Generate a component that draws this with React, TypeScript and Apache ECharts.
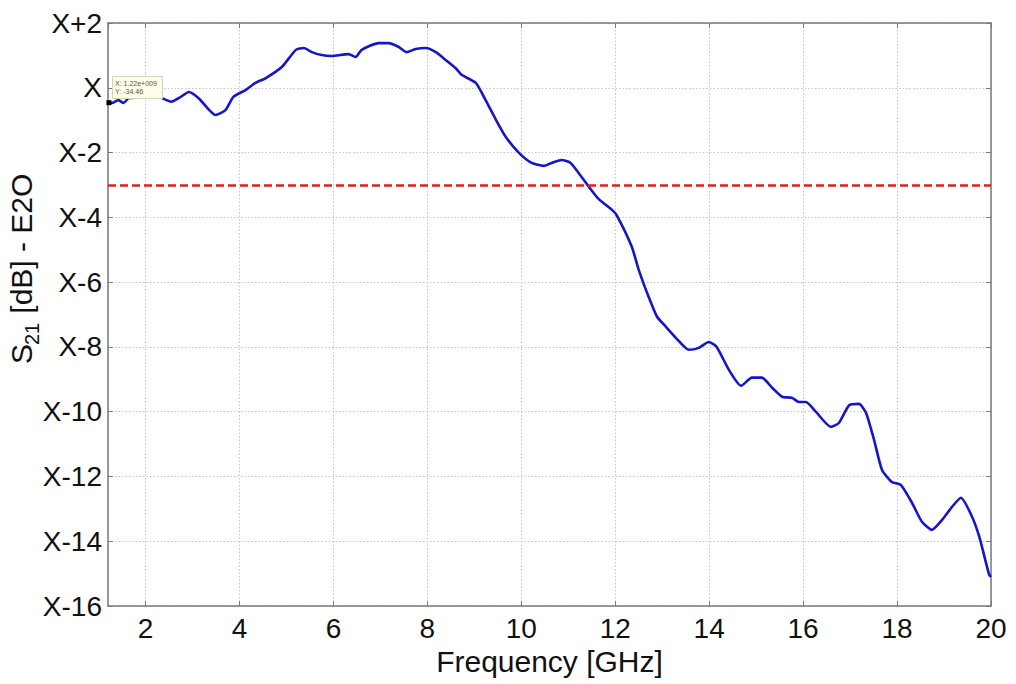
import React, { useEffect, useRef } from "react";
import * as echarts from "echarts";

// Frequency [GHz]
const freq: number[] = [
  1.22, 1.28, 1.42, 1.53, 1.64, 1.85, 2.06, 2.28, 2.55, 2.75, 2.92, 3.13, 3.49, 3.7, 3.87,
  4.13, 4.34, 4.56, 4.9, 5.2, 5.37, 5.54, 5.75, 5.96, 6.32, 6.47, 6.6, 6.96, 7.18, 7.39,
  7.56, 7.75, 7.97, 8.18, 8.39, 8.6, 8.73, 9.03, 9.24, 9.46, 9.67, 9.95, 10.22, 10.48,
  10.65, 10.86, 11.05, 11.22, 11.44, 11.65, 11.93, 12.03, 12.35, 12.5, 12.71, 12.89,
  13.08, 13.29, 13.57, 13.78, 13.99, 14.16, 14.42, 14.68, 14.91, 15.12, 15.34, 15.55,
  15.76, 15.91, 16.06, 16.27, 16.59, 16.76, 16.98, 17.19, 17.34, 17.51, 17.68, 17.89,
  18.08, 18.32, 18.53, 18.74, 18.96, 19.17, 19.36, 19.58, 19.75, 19.96, 20.0,
];
// S21 relative to X [dB]
const s21: number[] = [
  -0.46, -0.47, -0.38, -0.47, -0.32, -0.3, -0.25, -0.28, -0.43, -0.28, -0.13, -0.32, -0.84, -0.69, -0.28,
  -0.07, 0.15, 0.3, 0.64, 1.17, 1.23, 1.1, 1.01, 0.98, 1.04, 0.95, 1.17, 1.38, 1.38, 1.26,
  1.1, 1.2, 1.23, 1.1, 0.86, 0.61, 0.4, 0.15, -0.38, -0.99, -1.52, -2.01, -2.32, -2.41,
  -2.32, -2.23, -2.32, -2.63, -3.06, -3.44, -3.77, -3.93, -4.9, -5.62, -6.45, -7.07,
  -7.38, -7.72, -8.09, -8.03, -7.85, -8.0, -8.71, -9.2, -8.95, -8.95, -9.26, -9.54,
  -9.57, -9.7, -9.7, -10.0, -10.47, -10.35, -9.8, -9.76, -10.04, -10.87, -11.8, -12.17,
  -12.26, -12.82, -13.4, -13.65, -13.34, -12.94, -12.66, -13.19, -13.86, -15.03, -15.1,
];
const threshold = -3;
const yTicks = { min: -16, max: 2, step: 2 };
const xRange = { min: 1.2, max: 20 };
const dataTipLines = ["X: 1.22e+009", "Y: -34.46"];
const xName = "Frequency [GHz]";

const FONT = "'Liberation Sans', Arial, sans-serif";
const GRAY = "#7a7a7a";

function yLabel(v: number): string {
  if (v === 0) return "X";
  return v > 0 ? "X+" + v : "X" + v;
}

export default function App() {
  const ref = useRef<HTMLDivElement>(null);
  useEffect(() => {
    if (!ref.current) return;
    const chart = echarts.init(ref.current, undefined, { renderer: "svg" });
    const data = freq.map((f, i) => [f, s21[i]]);
    const sideAxis = {
      type: "value" as const,
      axisLine: { show: true, onZero: false, lineStyle: { color: GRAY, width: 1.5 } },
      axisTick: { show: true, inside: true, length: 5, lineStyle: { color: GRAY } },
      axisLabel: { show: false },
      splitLine: { show: false },
    };
    chart.setOption({
      animation: false,
      backgroundColor: "#fff",
      grid: { left: 108, right: 25, top: 23, bottom: 78, containLabel: false },
      xAxis: [
        {
          type: "value",
          min: xRange.min,
          max: xRange.max,
          splitNumber: 10,
          position: "bottom",
          name: xName,
          nameLocation: "middle",
          nameGap: 29,
          nameTextStyle: { fontSize: 30, color: "#111", fontFamily: FONT },
          axisLine: { show: true, onZero: false, lineStyle: { color: GRAY, width: 1.5 } },
          axisTick: { show: true, inside: true, length: 5, lineStyle: { color: GRAY } },
          axisLabel: {
            fontSize: 28,
            color: "#111",
            fontFamily: FONT,
            margin: 8,
            showMinLabel: false,
            formatter: (v: number) => (Number.isInteger(v) ? String(v) : ""),
          },
          splitLine: { show: true, lineStyle: { color: "#c4c4c4", type: [1.5, 2], width: 1 } },
        },
        {
          ...sideAxis,
          min: xRange.min,
          max: xRange.max,
          splitNumber: 10,
          position: "top",
        },
      ],
      yAxis: [
        {
          type: "value",
          min: yTicks.min,
          max: yTicks.max,
          interval: yTicks.step,
          position: "left",
          axisLine: { show: true, onZero: false, lineStyle: { color: GRAY, width: 1.5 } },
          axisTick: { show: true, inside: true, length: 5, lineStyle: { color: GRAY } },
          axisLabel: {
            fontSize: 28,
            color: "#111",
            fontFamily: FONT,
            margin: 6,
            formatter: yLabel,
          },
          splitLine: { show: true, lineStyle: { color: "#c4c4c4", type: [1.5, 2], width: 1 } },
        },
        {
          ...sideAxis,
          min: yTicks.min,
          max: yTicks.max,
          interval: yTicks.step,
          position: "right",
        },
      ],
      series: [
        {
          type: "line",
          data,
          xAxisIndex: 0,
          yAxisIndex: 0,
          showSymbol: false,
          smooth: 0.2,
          lineStyle: { color: "#1616c8", width: 2.6 },
          z: 3,
          markLine: {
            silent: true,
            symbol: ["none", "none"],
            label: { show: false },
            lineStyle: { color: "#e0201c", width: 2.5, type: [8, 4] },
            data: [{ yAxis: threshold }],
          },
          markPoint: {
            symbol: "rect",
            symbolSize: 5,
            itemStyle: { color: "#000" },
            label: { show: false },
            data: [{ coord: [freq[0], s21[0]] }],
          },
        },
      ],
      graphic: [
        {
          type: "rect",
          left: 112,
          top: 76,
          shape: { width: 50, height: 22 },
          style: { fill: "#fdfde8", stroke: "#d4d4b8", lineWidth: 1 },
          z: 10,
        },
        {
          type: "text",
          left: 115,
          top: 79,
          style: {
            text: dataTipLines.join("\n"),
            fontSize: 7,
            lineHeight: 8,
            fill: "#555",
            fontFamily: FONT,
          },
          z: 11,
        },
        {
          type: "text",
          x: 21,
          y: 364,
          rotation: Math.PI / 2,
          style: {
            text: "S",
            fontSize: 30,
            fill: "#111",
            fontFamily: FONT,
            textAlign: "left",
            textVerticalAlign: "middle",
          },
        },
        {
          type: "text",
          x: 32,
          y: 345,
          rotation: Math.PI / 2,
          style: {
            text: "21",
            fontSize: 20,
            fill: "#111",
            fontFamily: FONT,
            textAlign: "left",
            textVerticalAlign: "middle",
          },
        },
        {
          type: "text",
          x: 21,
          y: 322,
          rotation: Math.PI / 2,
          style: {
            text: " [dB] - E2O",
            fontSize: 30,
            fill: "#111",
            fontFamily: FONT,
            textAlign: "left",
            textVerticalAlign: "middle",
          },
        },
      ],
    });
    return () => chart.dispose();
  }, []);
  return (
    <div
      ref={ref}
      style={{ position: "absolute", left: 0, top: 0, width: 1016, height: 684 }}
    />
  );
}
